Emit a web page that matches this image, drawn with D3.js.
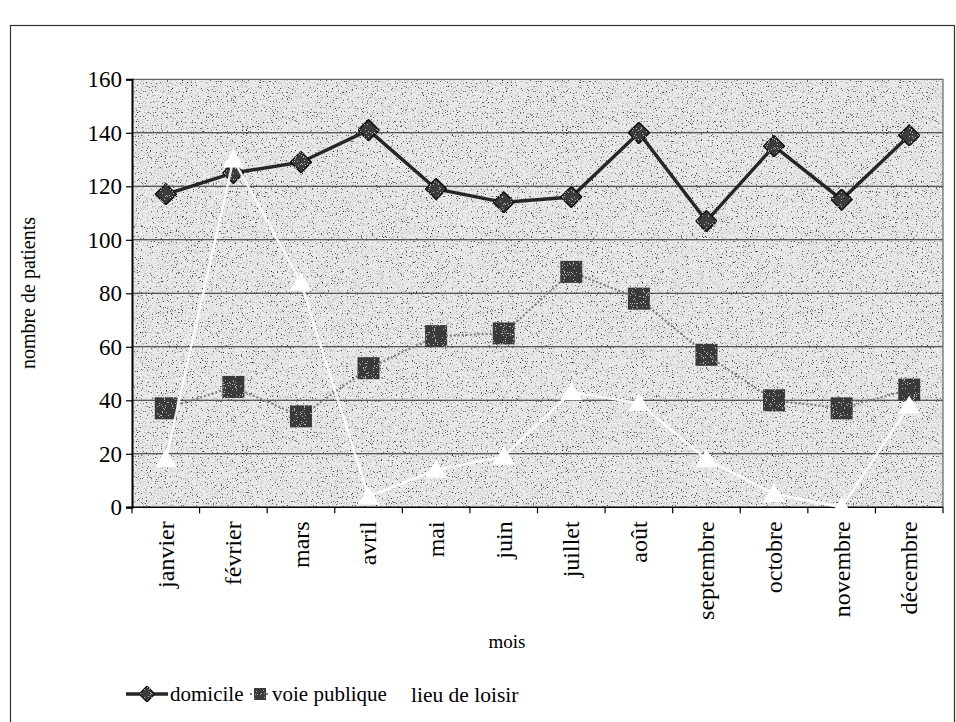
<!DOCTYPE html>
<html>
<head>
<meta charset="utf-8">
<script src="https://cdn.jsdelivr.net/npm/d3@7"></script>
<style>
  html, body { margin: 0; padding: 0; background: #fff; }
  svg { display: block; font-family: "Liberation Serif", "Times New Roman", serif; }
</style>
</head>
<body>
<svg id="chart" width="956" height="722"></svg>
<script>
// Patients par mois selon le lieu de l'accident
const months = ["janvier", "février", "mars", "avril", "mai", "juin", "juillet",
                "août", "septembre", "octobre", "novembre", "décembre"];
const domicile     = [117, 125, 129, 141, 119, 114, 116, 140, 107, 135, 115, 139];
const voiePublique = [37, 45, 34, 52, 64, 65, 88, 78, 57, 40, 37, 44];
const lieuDeLoisir = [18, 130, 84, 4, 14, 19, 43, 39, 18, 5, 0, 38];
const yTicks = [0, 20, 40, 60, 80, 100, 120, 140, 160];
const seriesNames = ["domicile", "voie publique", "lieu de loisir"];
const yTitle = "nombre de patients";
const xTitle = "mois";

const svg = d3.select("#chart");
const plot = { left: 132, right: 943, top: 79.3, bottom: 507.3 };

const x = d3.scaleBand().domain(months).range([plot.left, plot.right]);
const y = d3.scaleLinear().domain([0, 160]).range([plot.bottom, plot.top]);
const cx = m => x(m) + x.bandwidth() / 2;

// speckled grey fill of the plot area
const defs = svg.append("defs");
const f = defs.append("filter").attr("id", "speckle")
  .attr("x", 0).attr("y", 0).attr("width", 1).attr("height", 1)
  .attr("color-interpolation-filters", "sRGB");
f.append("feTurbulence").attr("type", "fractalNoise").attr("baseFrequency", 0.8)
  .attr("numOctaves", 2).attr("seed", 7).attr("result", "noise");
f.append("feColorMatrix").attr("in", "noise").attr("type", "matrix")
  .attr("values", "0 0 0 0 0.15  0 0 0 0 0.15  0 0 0 0 0.15  1 0 0 0 0").attr("result", "a");
f.append("feComponentTransfer").attr("in", "a")
  .append("feFuncA").attr("type", "discrete")
  .attr("tableValues", "0 0 0 0 0 0 0.2 0.7 1 1");

// speckle used inside the dark markers
const fm = defs.append("filter").attr("id", "markerGrain")
  .attr("x", 0).attr("y", 0).attr("width", 1).attr("height", 1)
  .attr("color-interpolation-filters", "sRGB");
fm.append("feTurbulence").attr("type", "fractalNoise").attr("baseFrequency", 0.9)
  .attr("numOctaves", 1).attr("seed", 3).attr("result", "n");
fm.append("feColorMatrix").attr("in", "n").attr("type", "matrix")
  .attr("values", "0 0 0 0 1  0 0 0 0 1  0 0 0 0 1  1.6 0 0 0 -0.55").attr("result", "w");
fm.append("feComponentTransfer").attr("in", "w")
  .append("feFuncA").attr("type", "discrete").attr("tableValues", "0 0 0.6 1");
fm.append("feComposite").attr("in2", "SourceGraphic").attr("operator", "in").attr("result", "spots");
fm.append("feMerge").call(m => {
  m.append("feMergeNode").attr("in", "SourceGraphic");
  m.append("feMergeNode").attr("in", "spots");
});

// outer frame
svg.append("rect")
  .attr("x", 10.5).attr("y", 25.5).attr("width", 944).attr("height", 720)
  .attr("fill", "none").attr("stroke", "#333").attr("stroke-width", 1.2);

// plot background
svg.append("rect")
  .attr("x", plot.left).attr("y", plot.top)
  .attr("width", plot.right - plot.left).attr("height", plot.bottom - plot.top)
  .attr("fill", "#e9e9e9");
svg.append("rect")
  .attr("x", plot.left).attr("y", plot.top)
  .attr("width", plot.right - plot.left).attr("height", plot.bottom - plot.top)
  .attr("fill", "#000").attr("filter", "url(#speckle)");

// horizontal gridlines
svg.append("g").selectAll("line")
  .data(yTicks.filter(v => v > 0 && v < 160)).join("line")
  .attr("x1", plot.left).attr("x2", plot.right)
  .attr("y1", d => y(d)).attr("y2", d => y(d))
  .attr("stroke", "#2a2a2a").attr("stroke-width", 1.1);

// plot border (top and right)
svg.append("path")
  .attr("d", `M${plot.left},${plot.top}H${plot.right}V${plot.bottom}`)
  .attr("fill", "none").attr("stroke", "#666").attr("stroke-width", 1.2);

// y axis
const yAxis = svg.append("g")
  .attr("transform", `translate(${plot.left},0)`)
  .call(d3.axisLeft(y).tickValues(yTicks).tickSize(6).tickPadding(4));
yAxis.select(".domain").attr("stroke", "#000").attr("stroke-width", 2);
yAxis.selectAll(".tick line").attr("stroke", "#000").attr("stroke-width", 1.2);
yAxis.selectAll("text").attr("font-size", 23).attr("fill", "#000")
  .attr("font-family", "Liberation Serif");

// x axis line and tick marks between categories
svg.append("line")
  .attr("x1", plot.left - 6).attr("x2", plot.right)
  .attr("y1", plot.bottom).attr("y2", plot.bottom)
  .attr("stroke", "#000").attr("stroke-width", 1.6);
svg.append("g").selectAll("line")
  .data(months.map(m => x(m)).concat([plot.right])).join("line")
  .attr("x1", d => d).attr("x2", d => d)
  .attr("y1", plot.bottom).attr("y2", plot.bottom + 6)
  .attr("stroke", "#000").attr("stroke-width", 1.2);

// rotated month labels
svg.append("g").selectAll("text")
  .data(months).join("text")
  .attr("transform", d => `translate(${cx(d)},${plot.bottom + 14}) rotate(-90)`)
  .attr("text-anchor", "end").attr("dy", "0.33em")
  .attr("font-size", 24).attr("fill", "#000")
  .text(d => d);

// axis titles
svg.append("text")
  .attr("transform", `translate(35,293) rotate(-90)`)
  .attr("text-anchor", "middle").attr("font-size", 20).attr("fill", "#000")
  .text(yTitle);
svg.append("text")
  .attr("x", 507).attr("y", 648)
  .attr("text-anchor", "middle").attr("font-size", 19).attr("fill", "#000")
  .text(xTitle);

const line = d3.line().x((d, i) => cx(months[i])).y(d => y(d));

const diamond = (s) => `M0,${-s}L${s},0L0,${s}L${-s},0Z`;
const triangle = (s) => `M0,${-s}L${s * 1.1},${s * 0.8}L${-s * 1.1},${s * 0.8}Z`;

// domicile
svg.append("path").datum(domicile)
  .attr("d", line).attr("fill", "none")
  .attr("stroke", "#262626").attr("stroke-width", 3.4);
svg.append("g").selectAll("path")
  .data(domicile).join("path")
  .attr("transform", (d, i) => `translate(${cx(months[i])},${y(d)})`)
  .attr("d", diamond(10.5))
  .attr("fill", "#3c3c3c").attr("stroke", "#111").attr("stroke-width", 1.5)
  .attr("filter", "url(#markerGrain)");

// voie publique
svg.append("path").datum(voiePublique)
  .attr("d", line).attr("fill", "none")
  .attr("stroke", "#7a7a7a").attr("stroke-width", 2)
  .attr("stroke-dasharray", "2,2");
svg.append("g").selectAll("rect")
  .data(voiePublique).join("rect")
  .attr("x", (d, i) => cx(months[i]) - 11).attr("y", d => y(d) - 11)
  .attr("width", 22).attr("height", 22)
  .attr("fill", "#3a3a3a").attr("filter", "url(#markerGrain)");

// lieu de loisir (white)
svg.append("path").datum(lieuDeLoisir)
  .attr("d", line).attr("fill", "none")
  .attr("stroke", "#fff").attr("stroke-opacity", 0.9).attr("stroke-width", 2.4);
svg.append("g").selectAll("path")
  .data(lieuDeLoisir).join("path")
  .attr("transform", (d, i) => `translate(${cx(months[i])},${y(d)})`)
  .attr("d", triangle(10))
  .attr("fill", "#fff");

// legend
const ly = 694;
const lg = svg.append("g");
lg.append("line").attr("x1", 126).attr("x2", 168).attr("y1", ly).attr("y2", ly)
  .attr("stroke", "#262626").attr("stroke-width", 3.4);
lg.append("path").attr("transform", `translate(147,${ly})`).attr("d", diamond(8))
  .attr("fill", "#3c3c3c").attr("stroke", "#111").attr("stroke-width", 1.2)
  .attr("filter", "url(#markerGrain)");
lg.append("text").attr("x", 170).attr("y", ly).attr("dy", "0.35em")
  .attr("font-size", 21).text(seriesNames[0]);

lg.append("line").attr("x1", 250).attr("x2", 270).attr("y1", ly).attr("y2", ly)
  .attr("stroke", "#7a7a7a").attr("stroke-width", 2).attr("stroke-dasharray", "2,2");
lg.append("rect").attr("x", 254).attr("y", ly - 6).attr("width", 12).attr("height", 12)
  .attr("fill", "#3a3a3a").attr("filter", "url(#markerGrain)");
lg.append("text").attr("x", 272).attr("y", ly).attr("dy", "0.35em")
  .attr("font-size", 21).text(seriesNames[1]);

lg.append("line").attr("x1", 391).attr("x2", 408).attr("y1", ly).attr("y2", ly)
  .attr("stroke", "#fff").attr("stroke-width", 2.6);
lg.append("text").attr("x", 411).attr("y", ly).attr("dy", "0.35em")
  .attr("font-size", 21.5).text(seriesNames[2]);
</script>
</body>
</html>
